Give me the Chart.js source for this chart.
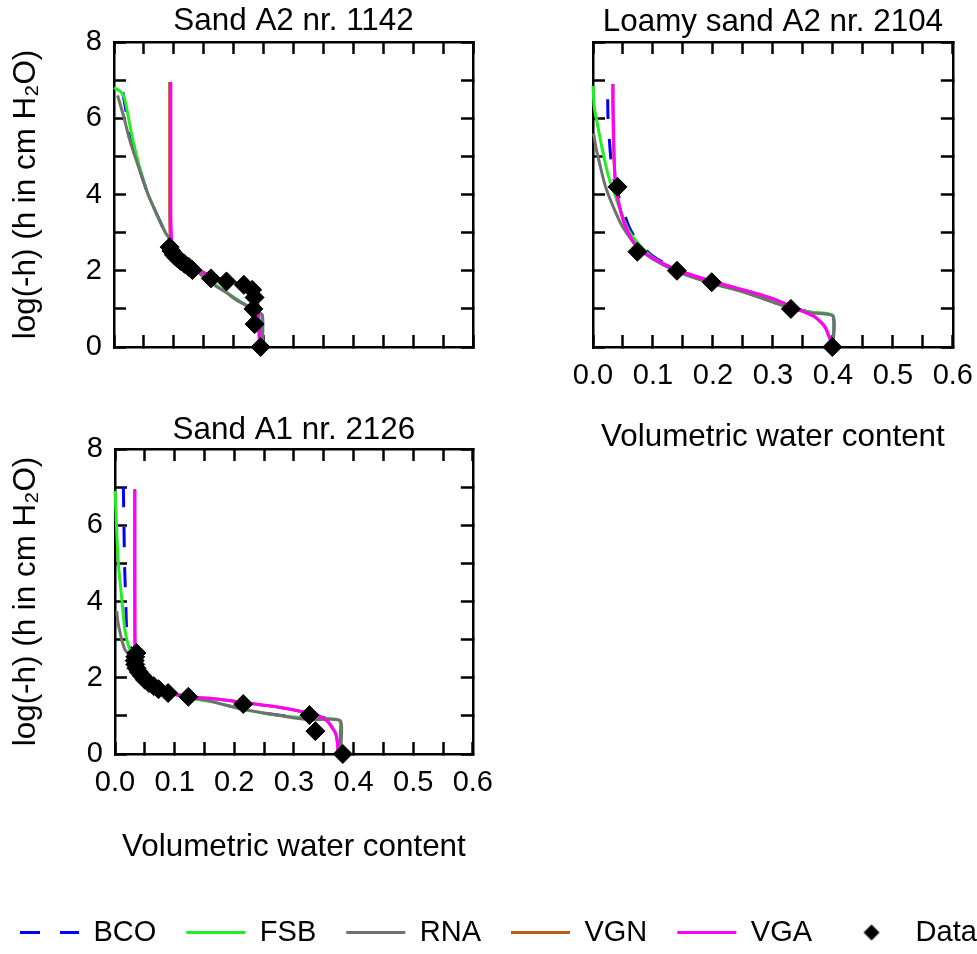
<!DOCTYPE html>
<html>
<head>
<meta charset="utf-8">
<script src="https://cdn.jsdelivr.net/npm/chart.js@4.4.1/dist/chart.umd.min.js"></script>
<style>
html, body { margin: 0; padding: 0; background: #fff; overflow: hidden; width: 977px; height: 954px; }
canvas { position: absolute; }
#p1 { left: 0; top: 0; }
#p2 { left: 500px; top: 0; }
#p3 { left: 0; top: 400px; }
#leg { left: -10px; top: 888px; }
</style>
</head>
<body>
<canvas id="p1" width="517" height="389"></canvas>
<canvas id="p2" width="497" height="470"></canvas>
<canvas id="p3" width="517" height="480"></canvas>
<canvas id="leg" width="1200" height="200"></canvas>
<script>
// legend / series
const seriesNames = ['BCO', 'FSB', 'RNA', 'VGN', 'VGA'];
const seriesColors = ['#0000ff', '#22ee22', '#707070', '#b85c1a', '#ff00ff'];
const panelTitles = ['Sand A2 nr. 1142', 'Loamy sand A2 nr. 2104', 'Sand A1 nr. 2126'];
const xTitle = 'Volumetric water content';
const yTitle = 'log(-h) (h in cm H\u2082O)';

// panel 1 : Sand A2 nr. 1142   [theta, log(-h)]
const obs1 = [[0.093,2.62],[0.096,2.52],[0.100,2.42],[0.105,2.34],[0.111,2.26],[0.118,2.18],[0.125,2.10],[0.131,2.02],
  [0.162,1.80],[0.188,1.72],[0.217,1.63],[0.231,1.50],[0.235,1.30],[0.233,1.00],[0.235,0.60],[0.245,0.00]];
const bco1 = [[0.015,6.68],[0.016,6.55],[0.020,6.20],[0.027,5.60],[0.035,5.05],[0.046,4.50],[0.057,4.00],[0.071,3.50],
  [0.086,3.00],[0.100,2.65],[0.115,2.40],[0.130,2.20],[0.145,1.96],[0.160,1.76],[0.176,1.56],[0.200,1.30],[0.220,1.10],
  [0.236,0.95],[0.246,0.86],[0.246,0.00]];
const fsb1 = [[0.000,6.80],[0.011,6.70],[0.017,6.55],[0.022,6.20],[0.028,5.70],[0.035,5.20],[0.045,4.60],[0.057,4.00],
  [0.071,3.50],[0.086,3.00],[0.097,2.75],[0.110,2.50],[0.130,2.20],[0.145,1.95],[0.160,1.75],[0.176,1.56],[0.190,1.42],
  [0.200,1.30],[0.210,1.20],[0.220,1.10],[0.235,0.95],[0.247,0.85],[0.247,0.00]];
const rna1 = [[0.006,6.60],[0.017,6.00],[0.025,5.50],[0.035,5.00],[0.046,4.50],[0.057,4.00],[0.071,3.50],[0.086,3.00],
  [0.095,2.80],[0.104,2.60],[0.116,2.40],[0.130,2.15],[0.145,1.90],[0.159,1.71],[0.176,1.54],[0.190,1.40],[0.200,1.28],
  [0.210,1.18],[0.220,1.10],[0.235,0.95],[0.248,0.84],[0.248,0.00]];
const vgn1 = [[0.093,6.95],[0.093,5.00],[0.093,3.50],[0.094,2.90],[0.096,2.70],[0.100,2.55],[0.108,2.42],[0.117,2.30],
  [0.130,2.15],[0.150,1.96],[0.170,1.82],[0.200,1.70],[0.225,1.55],[0.235,1.35],[0.240,1.15],[0.241,0.90],[0.242,0.50],
  [0.243,0.20],[0.244,0.00]];
const vga1 = [[0.095,6.95],[0.095,5.00],[0.095,3.50],[0.096,2.90],[0.097,2.70],[0.101,2.55],[0.108,2.42],[0.117,2.30],
  [0.130,2.15],[0.150,1.94],[0.170,1.82],[0.200,1.70],[0.225,1.55],[0.235,1.35],[0.240,1.15],[0.242,0.90],[0.242,0.50],
  [0.243,0.20],[0.245,0.00]];

// panel 2 : Loamy sand A2 nr. 2104
const obs2 = [[0.041,4.20],[0.074,2.50],[0.140,2.00],[0.198,1.70],[0.330,1.00],[0.399,0.00]];
const bco2 = [[0.0245,6.50],[0.025,6.00],[0.027,5.50],[0.030,4.90],[0.035,4.40],[0.042,4.00],[0.050,3.60],[0.060,3.15],
  [0.075,2.75],[0.100,2.38],[0.140,2.02],[0.200,1.68],[0.250,1.46],[0.285,1.27],[0.330,1.04],[0.360,0.92],[0.400,0.82],
  [0.400,0.00]];
const fsb2 = [[0.000,6.85],[0.002,6.30],[0.008,5.80],[0.014,5.30],[0.020,4.86],[0.026,4.47],[0.034,4.10],[0.045,3.60],
  [0.058,3.10],[0.071,2.80],[0.085,2.55],[0.100,2.35],[0.140,2.00],[0.200,1.67],[0.250,1.45],[0.285,1.27],[0.310,1.13],
  [0.330,1.03],[0.360,0.92],[0.400,0.83],[0.400,0.00]];
const rna2 = [[0.001,5.60],[0.006,5.15],[0.012,4.75],[0.020,4.25],[0.029,3.86],[0.046,3.25],[0.060,2.90],[0.075,2.60],
  [0.100,2.30],[0.140,1.98],[0.200,1.66],[0.250,1.45],[0.285,1.26],[0.310,1.12],[0.330,1.02],[0.360,0.90],[0.400,0.81],
  [0.400,0.00]];
const vgn2 = [[0.033,6.90],[0.033,6.30],[0.034,5.50],[0.035,4.90],[0.037,4.40],[0.040,4.00],[0.043,3.77],[0.051,3.30],
  [0.060,2.95],[0.074,2.62],[0.100,2.33],[0.140,2.02],[0.200,1.71],[0.269,1.42],[0.300,1.27],[0.330,1.07],[0.355,0.90],
  [0.369,0.80],[0.382,0.62],[0.388,0.49],[0.393,0.30],[0.396,0.18],[0.399,0.00]];
const vga2 = [[0.0334,6.90],[0.0337,6.30],[0.0345,5.50],[0.0355,4.90],[0.037,4.40],[0.040,4.00],[0.043,3.77],[0.051,3.30],
  [0.060,2.95],[0.074,2.62],[0.100,2.33],[0.140,2.02],[0.200,1.72],[0.269,1.42],[0.300,1.27],[0.330,1.07],[0.355,0.90],
  [0.369,0.80],[0.382,0.62],[0.388,0.49],[0.393,0.30],[0.396,0.18],[0.399,0.00]];

// panel 3 : Sand A1 nr. 2126
const obs3 = [[0.036,2.65],[0.034,2.55],[0.033,2.45],[0.034,2.35],[0.036,2.25],[0.040,2.15],[0.045,2.05],[0.050,1.95],
  [0.057,1.86],[0.065,1.78],[0.073,1.70],[0.089,1.60],[0.123,1.50],[0.215,1.31],[0.326,1.02],[0.336,0.60],[0.382,0.00]];
const bco3 = [[0.014,7.00],[0.015,6.00],[0.016,5.00],[0.018,4.00],[0.0195,3.30],[0.023,2.95],[0.030,2.65],[0.040,2.35],
  [0.050,2.12],[0.060,1.95],[0.075,1.78],[0.090,1.66],[0.125,1.48],[0.160,1.38],[0.215,1.18],[0.270,1.03],[0.326,0.95],
  [0.376,0.90],[0.376,0.00]];
const fsb3 = [[0.000,6.90],[0.0017,6.32],[0.003,5.79],[0.0056,5.00],[0.011,4.13],[0.0167,3.25],[0.025,2.73],[0.036,2.45],
  [0.045,2.22],[0.060,1.95],[0.075,1.78],[0.090,1.65],[0.125,1.47],[0.160,1.38],[0.215,1.17],[0.270,1.02],[0.326,0.94],
  [0.376,0.88],[0.378,0.00]];
const rna3 = [[0.003,3.75],[0.005,3.45],[0.008,3.22],[0.012,2.95],[0.017,2.73],[0.025,2.58],[0.032,2.46],[0.045,2.22],
  [0.060,1.95],[0.075,1.78],[0.090,1.65],[0.120,1.50],[0.150,1.42],[0.215,1.17],[0.260,1.05],[0.298,0.95],[0.330,0.90],
  [0.378,0.87],[0.378,0.00]];
const vgn3 = [[0.033,6.95],[0.033,5.00],[0.033,3.50],[0.0335,2.85],[0.036,2.60],[0.040,2.35],[0.047,2.05],[0.060,1.83],
  [0.075,1.70],[0.090,1.60],[0.110,1.53],[0.125,1.49],[0.159,1.46],[0.215,1.35],[0.270,1.24],[0.320,1.09],[0.345,0.98],
  [0.357,0.85],[0.366,0.65],[0.370,0.54],[0.373,0.30],[0.374,0.10],[0.377,0.00]];
const vga3 = [[0.0334,6.93],[0.0334,5.00],[0.0336,3.50],[0.0338,2.85],[0.036,2.60],[0.040,2.35],[0.047,2.05],[0.060,1.83],
  [0.075,1.70],[0.090,1.60],[0.110,1.53],[0.125,1.49],[0.159,1.46],[0.215,1.35],[0.270,1.24],[0.320,1.09],[0.345,0.98],
  [0.357,0.85],[0.366,0.65],[0.370,0.54],[0.373,0.30],[0.374,0.10],[0.377,0.00]];

Chart.defaults.font.family = "'Liberation Sans', Arial, Helvetica, sans-serif";
Chart.defaults.color = '#000';

const tickFont = { size: 29 };
const titleFont = { size: 31.4 };

function xFmt(v) {
    const k = Math.round(v * 20);
    return k % 2 === 0 ? (k / 20).toFixed(1) : '';
}
function yFmt(v) {
    const k = Math.round(v);
    return k % 2 === 0 ? String(k) : '';
}
// fixed axis box sizes so the plot boxes line up like the original figure
function sized(px) {
    return s => { if (s.isHorizontal()) s.height = px; else s.width = px; };
}
function toXY(pts) {
    return pts.map(p => ({ x: p[0], y: p[1] }));
}

function curve(i, pts) {
    return {
        label: seriesNames[i],
        data: toXY(pts),
        showLine: true,
        borderColor: seriesColors[i],
        backgroundColor: seriesColors[i],
        borderWidth: 3,
        borderDash: i === 0 ? [20, 20] : [],
        pointRadius: 0,
        tension: 0.2,
        clip: false
    };
}
function observed(pts) {
    return {
        label: 'Data',
        data: toXY(pts),
        showLine: false,
        pointStyle: 'rectRot',
        pointRadius: 9.5,
        backgroundColor: '#000',
        borderColor: '#000',
        borderWidth: 1,
        clip: false
    };
}

function panelScales(p) {
    const grid = { drawOnChartArea: false, drawTicks: true, tickLength: -12, tickWidth: 2.5, tickColor: '#000' };
    const border = { display: true, color: '#000', width: 2.5 };
    const xTicks = { stepSize: 0.05, maxTicksLimit: 20, autoSkip: false, maxRotation: 0, padding: 24, font: tickFont, color: '#000', callback: xFmt };
    const yTicks = { stepSize: 1, maxTicksLimit: 20, autoSkip: false, padding: 24, font: tickFont, color: '#000', callback: yFmt };
    return {
        x: { type: 'linear', position: 'bottom', min: 0, max: 0.6,
             ticks: Object.assign({}, xTicks, { display: p.xLabels }), grid: grid, border: border,
             title: { display: p.xLabels, text: xTitle, font: titleFont, color: '#000', padding: { top: 0, bottom: 14 } },
             afterFit: sized(p.bottom) },
        x2: { type: 'linear', position: 'top', min: 0, max: 0.6,
             ticks: Object.assign({}, xTicks, { display: false }), grid: grid, border: border,
             title: { display: true, text: p.title, font: titleFont, color: '#000', padding: { top: p.titlePad, bottom: 0 } },
             afterFit: sized(p.top) },
        y: { type: 'linear', position: 'left', min: 0, max: 8,
             ticks: Object.assign({}, yTicks, { display: p.yLabels }), grid: grid, border: border,
             title: { display: p.yLabels, text: yTitle, font: titleFont, color: '#000', padding: { top: 8, bottom: 0 } },
             afterFit: sized(p.left) },
        y2: { type: 'linear', position: 'right', min: 0, max: 8,
             ticks: Object.assign({}, yTicks, { display: false }), grid: grid, border: border,
             afterFit: sized(p.right) }
    };
}

function makePanel(id, curves, obs, p) {
    const datasets = [observed(obs)];
    for (let i = curves.length - 1; i >= 0; i--) datasets.push(curve(i, curves[i]));
    return new Chart(document.getElementById(id).getContext('2d'), {
        type: 'scatter',
        data: { datasets: datasets },
        options: {
            responsive: false,
            animation: false,
            devicePixelRatio: 1,
            events: [],
            layout: { padding: 0, autoPadding: false },
            plugins: { legend: { display: false }, tooltip: { enabled: false } },
            scales: panelScales(p)
        }
    });
}

const panel1 = makePanel('p1', [bco1, fsb1, rna1, vgn1, vga1], obs1,
    { title: panelTitles[0], titlePad: 3, xLabels: false, yLabels: true, left: 114, right: 44, top: 42, bottom: 42 });
const panel2 = makePanel('p2', [bco2, fsb2, rna2, vgn2, vga2], obs2,
    { title: panelTitles[1], titlePad: 4, xLabels: true, yLabels: false, left: 93, right: 44, top: 42, bottom: 123 });
const panel3 = makePanel('p3', [bco3, fsb3, rna3, vgn3, vga3], obs3,
    { title: panelTitles[2], titlePad: 12, xLabels: true, yLabels: true, left: 115, right: 44, top: 49, bottom: 126 });

/////

// legend symbol for the observed points
const diamond = document.createElement('canvas');
diamond.width = 18;
diamond.height = 18;
const dctx = diamond.getContext('2d');
dctx.fillStyle = '#000';
if (Chart.helpers && Chart.helpers.drawPoint) {
    Chart.helpers.drawPoint(dctx, { pointStyle: 'rectRot', radius: 8, borderWidth: 0, rotation: 0 }, 9, 9);
} else {
    dctx.beginPath(); dctx.moveTo(9, 1); dctx.lineTo(17, 9); dctx.lineTo(9, 17); dctx.lineTo(1, 9); dctx.closePath(); dctx.fill();
}

const legendItems = seriesNames.map((name, i) => ({
    text: name,
    fillStyle: seriesColors[i],
    strokeStyle: seriesColors[i],
    lineWidth: 3,
    lineDash: i === 0 ? [20, 20] : [],
    pointStyle: 'line',
    hidden: false
}));
legendItems.push({ text: 'Data', fillStyle: '#000', strokeStyle: '#000', lineWidth: 0, pointStyle: diamond, hidden: false });

const legendChart = new Chart(document.getElementById('leg').getContext('2d'), {
    type: 'scatter',
    data: { datasets: [] },
    options: {
        responsive: false,
        animation: false,
        devicePixelRatio: 1,
        events: [],
        layout: { padding: 0 },
        scales: { x: { display: false }, y: { display: false } },
        plugins: {
            tooltip: { enabled: false },
            legend: {
                display: true,
                position: 'top',
                align: 'start',
                labels: {
                    usePointStyle: true,
                    pointStyleWidth: 59,
                    padding: 30,
                    font: { size: 29 },
                    color: '#000',
                    generateLabels: () => legendItems
                }
            }
        }
    }
});
</script>
</body>
</html>
